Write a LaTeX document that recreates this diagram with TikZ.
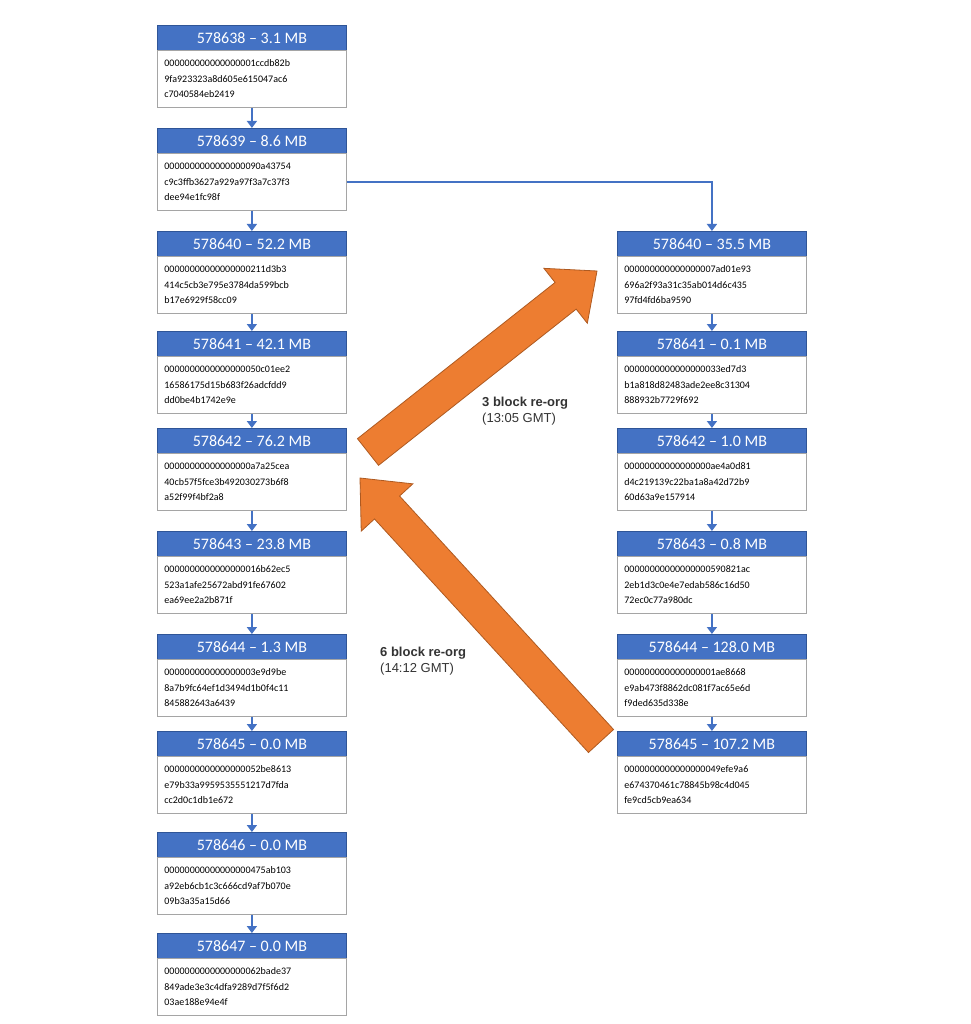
\documentclass[tikz,border=0pt]{standalone}
\usepackage{fontspec}
\setmainfont{Carlito}
\newfontfamily\arialf{Liberation Sans}
\usetikzlibrary{calc,arrows.meta}
\definecolor{hdr}{HTML}{4472C4}
\definecolor{hdrb}{HTML}{2F5597}
\definecolor{bodyb}{HTML}{A5A5A5}
\definecolor{org}{HTML}{ED7D31}
\definecolor{orgb}{HTML}{AE5A21}
\tikzset{
 hbox/.style={draw=hdrb,fill=hdr,text=white,minimum width=189pt,minimum height=25pt,anchor=north west,inner sep=0pt,font=\fontsize{16}{18}\selectfont,line width=0.8pt},
 bbox/.style={draw=bodyb,fill=white,minimum width=189pt,minimum height=57pt,anchor=north west,inner sep=0pt,text width=175pt,align=left,font=\fontsize{10}{15.6}\selectfont,line width=0.8pt},
 link/.style={draw=hdr,line width=1.6pt,-{Triangle[length=7pt,width=10pt]}},
 fat/.style={fill=org,draw=orgb,line width=0.8pt},
 lbl/.style={font=\arialf\fontsize{13}{16}\selectfont,align=left,anchor=north west,inner sep=0pt,text=black!80}
}
\newcommand{\blk}[7]{%
 \node[hbox] (#1h) at (#2,#3) {#4};
 \node[bbox] (#1b) at (#2,#3+25) {#5\\#6\\#7};
}
\newcommand{\fatarrow}[2]{%
 \coordinate (C) at ($(#2)!40pt!(#1)$);
 \draw[fat] ($(#1)!17pt!90:(#2)$) -- ($(C)!17pt!-90:(#1)$) -- ($(C)!35pt!-90:(#1)$) -- (#2) -- ($(C)!35pt!90:(#1)$) -- ($(C)!17pt!90:(#1)$) -- ($(#1)!17pt!-90:(#2)$) -- cycle;
}
\begin{document}
\begin{tikzpicture}[x=1pt,y=-1pt]
\useasboundingbox (0,0) rectangle (970,1024);
\def\z{00000000000000000}
\blk{a}{157}{25}{578638 -- 3.1 MB}{\z1ccdb82b}{9fa923323a8d605e615047ac6}{c7040584eb2419}
\blk{b}{157}{128}{578639 -- 8.6 MB}{\z90a43754}{c9c3ffb3627a929a97f3a7c37f3}{dee94e1fc98f}
\blk{c}{157}{231}{578640 -- 52.2 MB}{\z211d3b3}{414c5cb3e795e3784da599bcb}{b17e6929f58cc09}
\blk{d}{157}{331}{578641 -- 42.1 MB}{\z50c01ee2}{16586175d15b683f26adcfdd9}{dd0be4b1742e9e}
\blk{e}{157}{428}{578642 -- 76.2 MB}{\z a7a25cea}{40cb57f5fce3b492030273b6f8}{a52f99f4bf2a8}
\blk{f}{157}{531}{578643 -- 23.8 MB}{\z16b62ec5}{523a1afe25672abd91fe67602}{ea69ee2a2b871f}
\blk{g}{157}{634}{578644 -- 1.3 MB}{\z3e9d9be}{8a7b9fc64ef1d3494d1b0f4c11}{845882643a6439}
\blk{h}{157}{731}{578645 -- 0.0 MB}{\z52be8613}{e79b33a9959535551217d7fda}{cc2d0c1db1e672}
\blk{i}{157}{832}{578646 -- 0.0 MB}{\z475ab103}{a92eb6cb1c3c666cd9af7b070e}{09b3a35a15d66}
\blk{j}{157}{933}{578647 -- 0.0 MB}{\z62bade37}{849ade3e3c4dfa9289d7f5f6d2}{03ae188e94e4f}
\blk{p}{617}{231}{578640 -- 35.5 MB}{\z7ad01e93}{696a2f93a31c35ab014d6c435}{97fd4fd6ba9590}
\blk{q}{617}{331}{578641 -- 0.1 MB}{\z33ed7d3}{b1a818d82483ade2ee8c31304}{888932b7729f692}
\blk{r}{617}{428}{578642 -- 1.0 MB}{\z ae4a0d81}{d4c219139c22ba1a8a42d72b9}{60d63a9e157914}
\blk{s}{617}{531}{578643 -- 0.8 MB}{\z590821ac}{2eb1d3c0e4e7edab586c16d50}{72ec0c77a980dc}
\blk{t}{617}{634}{578644 -- 128.0 MB}{\z1ae8668}{e9ab473f8862dc081f7ac65e6d}{f9ded635d338e}
\blk{u}{617}{731}{578645 -- 107.2 MB}{\z49efe9a6}{e674370461c78845b98c4d045}{fe9cd5cb9ea634}
\foreach \m/\n in {a/b,b/c,c/d,d/e,e/f,f/g,g/h,h/i,i/j,p/q,q/r,r/s,s/t,t/u}
 \draw[link] (\m b.south) -- (\n h.north);
\draw[link] (bb.east) -| (ph.north);
\coordinate (A1) at (368,452);
\coordinate (B1) at (597,271);
\fatarrow{A1}{B1}
\coordinate (A2) at (601,741);
\coordinate (B2) at (360,478);
\fatarrow{A2}{B2}
\node[lbl] (l1) at (482,397) {\textbf{3 block re-org}\\(13:05 GMT)};
\node[lbl] (l2) at (380,647) {\textbf{6 block re-org}\\(14:12 GMT)};
\end{tikzpicture}
\end{document}
